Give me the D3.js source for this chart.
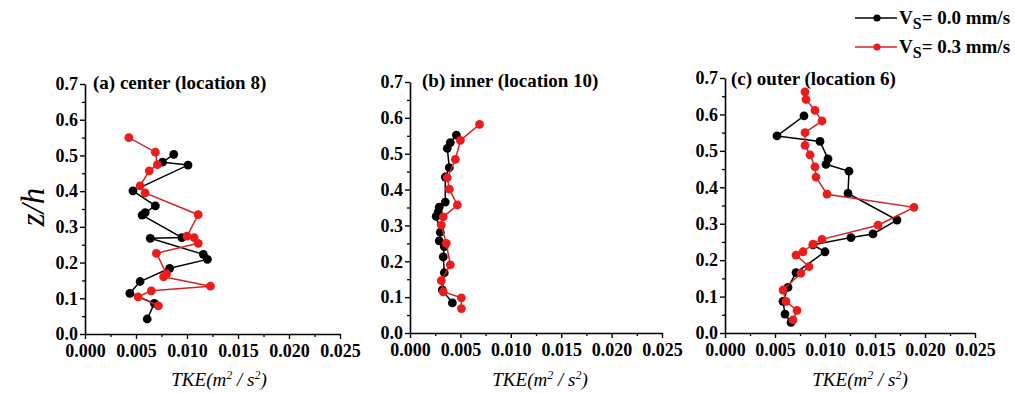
<!DOCTYPE html>
<html><head><meta charset="utf-8">
<script src="https://cdn.jsdelivr.net/npm/d3@7"></script>
<style>
body{margin:0;background:#fff}
svg{display:block}
text{font-family:"Liberation Serif","Times New Roman",serif}
</style>
</head><body>
<svg id="chart" width="1015" height="393"></svg>
<script>
// ---------- data (TKE [m^2/s^2], z/h) ----------
const xTickValues = [0, 0.005, 0.010, 0.015, 0.020, 0.025];
const yTickValues = [0, 0.1, 0.2, 0.3, 0.4, 0.5, 0.6, 0.7];
const panelTitles = ["(a) center (location 8)", "(b) inner (location 10)", "(c) outer (location 6)"];
const legendLabels = ["= 0.0 mm/s", "= 0.3 mm/s"];

const centerVs00 = [[0.0061,0.042],[0.0068,0.086],[0.0044,0.114],[0.0054,0.147],[0.0083,0.184],[0.0120,0.209],[0.0116,0.223],[0.0064,0.268],[0.0095,0.270],[0.0056,0.333],[0.0059,0.340],[0.0069,0.359],[0.0047,0.401],[0.0101,0.473],[0.0076,0.481],[0.0087,0.503]];
const centerVs03 = [[0.0072,0.079],[0.0052,0.104],[0.0065,0.121],[0.0123,0.134],[0.0077,0.160],[0.0080,0.168],[0.0070,0.226],[0.0111,0.254],[0.0107,0.270],[0.0100,0.274],[0.0111,0.334],[0.0059,0.395],[0.0054,0.415],[0.0063,0.457],[0.0071,0.474],[0.0069,0.509],[0.0043,0.550]];

const innerVs00 = [[0.0042,0.084],[0.0032,0.120],[0.0034,0.168],[0.0033,0.212],[0.0034,0.241],[0.0029,0.257],[0.0030,0.281],[0.0026,0.325],[0.0028,0.338],[0.0029,0.351],[0.0035,0.365],[0.0035,0.435],[0.0039,0.461],[0.0037,0.515],[0.0040,0.531],[0.0046,0.552]];
const innerVs03 = [[0.0051,0.068],[0.0051,0.098],[0.0033,0.115],[0.0031,0.146],[0.0040,0.190],[0.0036,0.250],[0.0031,0.301],[0.0033,0.324],[0.0047,0.357],[0.0039,0.401],[0.0037,0.433],[0.0045,0.484],[0.0050,0.537],[0.0069,0.582]];

const outerVs00 = [[0.0066,0.029],[0.0060,0.052],[0.0058,0.087],[0.0063,0.125],[0.0071,0.166],[0.0100,0.223],[0.0088,0.242],[0.0126,0.262],[0.0148,0.272],[0.0172,0.310],[0.0123,0.383],[0.0124,0.444],[0.0101,0.463],[0.0103,0.478],[0.0095,0.526],[0.0052,0.541],[0.0079,0.596]];
const outerVs03 = [[0.0068,0.036],[0.0072,0.062],[0.0061,0.087],[0.0058,0.118],[0.0076,0.164],[0.0084,0.182],[0.0071,0.214],[0.0078,0.223],[0.0088,0.244],[0.0097,0.257],[0.0153,0.296],[0.0189,0.345],[0.0102,0.381],[0.0091,0.428],[0.0090,0.456],[0.0085,0.489],[0.0080,0.515],[0.0080,0.550],[0.0097,0.582],[0.0090,0.611],[0.0081,0.641],[0.0080,0.662]];

// ---------- layout ----------
const BLACK = "#000", RED_DOT = "#ec1c1c", RED_LINE = "#d22424";
const panels = [
  {title: panelTitles[0], x0: 85,  x1: 340, yb: 334, yt: 84, tx: 93,  ty: 89, xl: 219, s0: centerVs00, s3: centerVs03},
  {title: panelTitles[1], x0: 410, x1: 662, yb: 333, yt: 82, tx: 422, ty: 87, xl: 540, s0: innerVs00,  s3: innerVs03},
  {title: panelTitles[2], x0: 725, x1: 975, yb: 333, yt: 78, tx: 731, ty: 85, xl: 860, s0: outerVs00,  s3: outerVs03}
];

const svg = d3.select("#chart");

panels.forEach(p => {
  const x = d3.scaleLinear().domain([0, 0.025]).range([p.x0, p.x1]);
  const y = d3.scaleLinear().domain([0, 0.7]).range([p.yb, p.yt]);
  const g = svg.append("g");

  // minor ticks
  const xMinor = d3.range(0.0025, 0.025, 0.005);
  g.append("g").attr("transform", `translate(0,${p.yb})`)
    .call(d3.axisBottom(x).tickValues(xMinor).tickFormat("").tickSize(3).tickSizeOuter(0))
    .call(a => a.select(".domain").remove())
    .selectAll("line").attr("stroke-width", 1.3);
  const yMinor = d3.range(0.05, 0.7, 0.1);
  g.append("g").attr("transform", `translate(${p.x0},0)`)
    .call(d3.axisLeft(y).tickValues(yMinor).tickFormat("").tickSize(3).tickSizeOuter(0))
    .call(a => a.select(".domain").remove())
    .selectAll("line").attr("stroke-width", 1.3);

  // major axes
  const xa = g.append("g").attr("transform", `translate(0,${p.yb})`)
    .call(d3.axisBottom(x).tickValues(xTickValues).tickFormat(d3.format(".3f")).tickSize(5).tickPadding(5).tickSizeOuter(0));
  const ya = g.append("g").attr("transform", `translate(${p.x0},0)`)
    .call(d3.axisLeft(y).tickValues(yTickValues).tickFormat(d3.format(".1f")).tickSize(5).tickPadding(2).tickSizeOuter(0));
  [xa, ya].forEach(a => {
    a.select(".domain").attr("stroke-width", 1.6);
    a.selectAll(".tick line").attr("stroke-width", 1.4);
    a.selectAll("text").attr("font-size", 18).attr("font-weight", "bold").attr("fill", "#000")
      .attr("font-family", "Liberation Serif, Times New Roman, serif");
  });

  // panel title
  g.append("text").attr("x", p.tx).attr("y", p.ty).attr("font-size", 19).attr("font-weight", "bold")
    .text(p.title);

  // x-axis title
  const t = g.append("text").attr("x", p.xl).attr("y", 386).attr("text-anchor", "middle")
    .attr("font-size", 19).attr("font-style", "italic");
  t.append("tspan").text("TKE(m");
  t.append("tspan").attr("font-size", 12).attr("dy", -7).text("2");
  t.append("tspan").attr("dy", 7).text(" / s");
  t.append("tspan").attr("font-size", 12).attr("dy", -7).text("2");
  t.append("tspan").attr("dy", 7).text(")");

  // series
  const line = d3.line().x(d => x(d[0])).y(d => y(d[1]));
  const draw = (data, lc, dc) => {
    const sorted = data.slice().sort((a, b) => a[1] - b[1]);
    g.append("path").datum(sorted).attr("d", line).attr("fill", "none")
      .attr("stroke", lc).attr("stroke-width", 1.5);
    g.selectAll(null).data(sorted).enter().append("circle")
      .attr("cx", d => x(d[0])).attr("cy", d => y(d[1])).attr("r", 4.4).attr("fill", dc);
  };
  draw(p.s0, BLACK, BLACK);
  draw(p.s3, RED_LINE, RED_DOT);
});

// y-axis title
svg.append("text").attr("transform", "translate(44,207) rotate(-90)").attr("text-anchor", "middle")
  .attr("font-size", 33).attr("font-style", "italic").text("z/h");

// legend
const legend = svg.append("g");
[[BLACK, BLACK, 18], [RED_LINE, RED_DOT, 47]].forEach((c, i) => {
  const yy = c[2];
  legend.append("line").attr("x1", 855).attr("x2", 897).attr("y1", yy).attr("y2", yy)
    .attr("stroke", c[0]).attr("stroke-width", 1.5);
  legend.append("circle").attr("cx", 877).attr("cy", yy).attr("r", 3.6).attr("fill", c[1]);
  const t = legend.append("text").attr("x", 899).attr("y", yy + 6).attr("font-size", 19).attr("font-weight", "bold");
  t.append("tspan").text("V");
  t.append("tspan").attr("font-size", 16).attr("dy", 5).text("S");
  t.append("tspan").attr("dy", -5).text(legendLabels[i]);
});
</script>
</body></html>
